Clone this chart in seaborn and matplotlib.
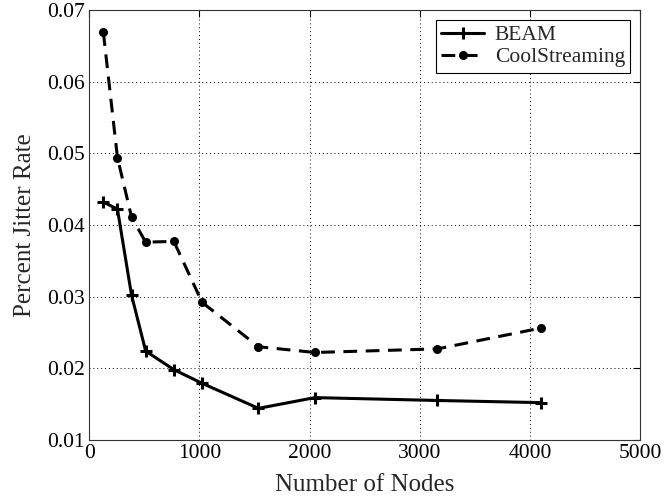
import matplotlib
matplotlib.use("Agg")
import matplotlib.pyplot as plt
import pandas as pd
import seaborn as sns

nodes = [128, 256, 384, 512, 768, 1024, 1536, 2048, 3160, 4096]
beam = [0.0432, 0.0422, 0.0302, 0.0224, 0.0198, 0.0179, 0.0144, 0.0159, 0.0155, 0.0152]
coolstreaming = [0.0669, 0.0494, 0.0411, 0.0376, 0.0377, 0.0292, 0.0230, 0.0222, 0.0227, 0.0256]
x_ticks = [0, 1000, 2000, 3000, 4000, 5000]
y_ticks = [0.01, 0.02, 0.03, 0.04, 0.05, 0.06, 0.07]

df = pd.DataFrame({
    "nodes": nodes * 2,
    "rate": beam + coolstreaming,
    "scheme": ["BEAM"] * len(nodes) + ["CoolStreaming"] * len(nodes),
})

sns.set_style("white")
plt.rcParams["font.family"] = ["Liberation Serif", "DejaVu Serif"]

fig = plt.figure(figsize=(6.71, 5.01), dpi=100)
ax = fig.add_axes([0.133, 0.122, 0.821, 0.858])

sns.lineplot(data=df[df.scheme == "BEAM"], x="nodes", y="rate", ax=ax,
             color="black", linewidth=2.2, marker="+", markersize=8,
             markeredgewidth=2.2, markeredgecolor="black", label="BEAM")
sns.lineplot(data=df[df.scheme == "CoolStreaming"], x="nodes", y="rate", ax=ax,
             color="black", linewidth=2.2, linestyle=(0, (4.5, 2.8)), marker="o",
             markersize=6.5, markeredgewidth=0, markeredgecolor="black",
             label="CoolStreaming")

ax.set_xlim(0, 5000)
ax.set_ylim(0.01, 0.07)
ax.set_xticks(x_ticks)
ax.set_yticks(y_ticks)
ax.set_xticklabels([str(t) for t in x_ticks])
ax.set_yticklabels([f"{t:.2f}" for t in y_ticks])
ax.tick_params(axis="both", direction="in", length=5, width=0.8, labelsize=15.5,
               top=True, right=True, colors="black", pad=3)
ax.grid(True, color="black", linestyle=(0, (1, 3)), linewidth=0.7)
for s in ax.spines.values():
    s.set_visible(True)
    s.set_color("#333333")
    s.set_linewidth(0.8)

ax.set_xlabel("Number of Nodes", fontsize=18, labelpad=8)
ax.set_ylabel("Percent Jitter Rate", fontsize=18, labelpad=8)

leg = ax.legend(loc="upper right", fontsize=15.5, frameon=True, fancybox=False,
                framealpha=1, edgecolor="black", handlelength=2.0,
                borderpad=0.25, labelspacing=0.1, handletextpad=0.5,
                borderaxespad=0.45)
leg.get_frame().set_linewidth(0.8)

fig.savefig("out.png", dpi=100)
